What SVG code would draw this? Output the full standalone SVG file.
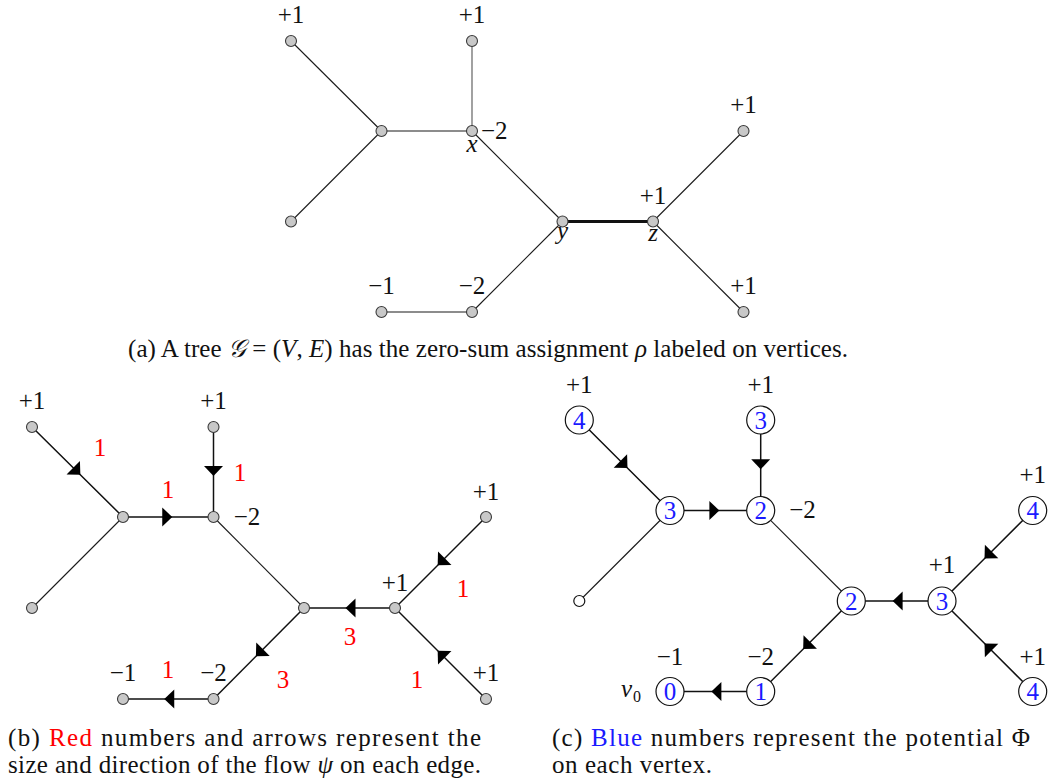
<svg xmlns="http://www.w3.org/2000/svg" width="1050" height="782" viewBox="0 0 1050 782">
<style>
text{font-family:'Liberation Serif','Times New Roman',serif;font-size:25px;fill:#111;stroke:none}
.m{text-anchor:middle}
.it{font-style:italic}
.red{fill:#ff0000}
.blue{fill:#1a1aff}
.sub{font-size:16px}
.e{stroke:#1a1a1a;stroke-width:1.1;fill:none}
.ea{stroke:#111;stroke-width:1.5;fill:none;marker-mid:url(#tri)}
.thick{stroke:#111;stroke-width:3.2}
.g{fill:#c8c8c8;stroke:#3a3a3a;stroke-width:1.1}
.w{fill:#fff;stroke:#111;stroke-width:1.2}
</style>
<defs>
<marker id="tri" viewBox="-7 -10 12 20" refX="0" refY="0" markerWidth="12" markerHeight="20" markerUnits="userSpaceOnUse" orient="auto" overflow="visible">
<path d="M-6,-9.5 L4,0 L-6,9.5 Z" fill="#000"/>
</marker>
</defs>
<rect width="1050" height="782" fill="#fff"/>

<!-- ============ (a) ============ -->
<g id="a-connectors">
<line class="e" x1="291" y1="41" x2="381.5" y2="131"/>
<line class="e" x1="472" y1="41" x2="472" y2="131" style="stroke:#555"/>
<line class="e" x1="381.5" y1="131" x2="472" y2="131"/>
<line class="e" x1="291" y1="221.5" x2="381.5" y2="131"/>
<line class="e" x1="472" y1="131" x2="562.5" y2="221.5"/>
<line class="thick" x1="562.5" y1="221.5" x2="653" y2="221.5"/>
<line class="e" x1="653" y1="221.5" x2="743.5" y2="131"/>
<line class="e" x1="653" y1="221.5" x2="743.5" y2="312"/>
<line class="e" x1="562.5" y1="221.5" x2="472" y2="312"/>
<line class="e" x1="472" y1="312" x2="381.5" y2="312"/>
</g>
<g id="a-n1"><circle class="g" cx="291" cy="41" r="5.5"/><text class="m" x="291" y="23">+1</text></g>
<g id="a-n2"><circle class="g" cx="472" cy="41" r="5.5"/><text class="m" x="472" y="23">+1</text></g>
<g id="a-n3"><circle class="g" cx="381.5" cy="131" r="5.5"/></g>
<g id="a-x"><circle class="g" cx="472" cy="131" r="5.5"/><text x="481" y="139">−2</text><text class="m it" x="472" y="152">x</text></g>
<g id="a-n5"><circle class="g" cx="291" cy="221.5" r="5.5"/></g>
<g id="a-y"><circle class="g" cx="562.5" cy="221.5" r="5.5"/><text class="m it" x="562.5" y="239">y</text></g>
<g id="a-z"><circle class="g" cx="653" cy="221.5" r="5.5"/><text class="m" x="653" y="204">+1</text><text class="m it" x="653" y="241">z</text></g>
<g id="a-n8"><circle class="g" cx="743.5" cy="131" r="5.5"/><text class="m" x="743.5" y="113">+1</text></g>
<g id="a-n9"><circle class="g" cx="743.5" cy="312" r="5.5"/><text class="m" x="743.5" y="294">+1</text></g>
<g id="a-n10"><circle class="g" cx="472" cy="312" r="5.5"/><text class="m" x="472" y="294">−2</text></g>
<g id="a-n11"><circle class="g" cx="381.5" cy="312" r="5.5"/><text class="m" x="381.5" y="294">−1</text></g>
<text id="cap-a" x="128" y="357" textLength="720">(a) A tree <tspan class="it">𝒢</tspan> = (<tspan class="it">V</tspan>, <tspan class="it">E</tspan>) has the zero-sum assignment <tspan class="it">ρ</tspan> labeled on vertices.</text>

<!-- ============ (b) ============ -->
<g id="b-connectors">
<path class="ea" d="M32,427 L77.5,472 L123,517"/>
<path class="ea" d="M213.5,427 L213.5,472 L213.5,517"/>
<path class="ea" d="M123,517 L168.25,517 L213.5,517"/>
<line class="e" x1="32" y1="608" x2="123" y2="517"/>
<line class="e" x1="213.5" y1="517" x2="304" y2="608"/>
<path class="ea" d="M395,608 L349.5,608 L304,608"/>
<path class="ea" d="M486,517 L440.5,562.5 L395,608"/>
<path class="ea" d="M486,699 L440.5,653.5 L395,608"/>
<path class="ea" d="M304,608 L258.75,653.5 L213.5,699"/>
<path class="ea" d="M213.5,699 L168.25,699 L123,699"/>
</g>
<g id="b-n1"><circle class="g" cx="32" cy="427" r="5.5"/><text class="m" x="32" y="409">+1</text></g>
<g id="b-n2"><circle class="g" cx="213.5" cy="427" r="5.5"/><text class="m" x="213.5" y="409">+1</text></g>
<g id="b-n3"><circle class="g" cx="123" cy="517" r="5.5"/></g>
<g id="b-n4"><circle class="g" cx="213.5" cy="517" r="5.5"/><text class="m" x="247" y="525">−2</text></g>
<g id="b-n5"><circle class="g" cx="32" cy="608" r="5.5"/></g>
<g id="b-n6"><circle class="g" cx="304" cy="608" r="5.5"/></g>
<g id="b-n7"><circle class="g" cx="395" cy="608" r="5.5"/><text class="m" x="395" y="591">+1</text></g>
<g id="b-n8"><circle class="g" cx="486" cy="517" r="5.5"/><text class="m" x="486" y="500">+1</text></g>
<g id="b-n9"><circle class="g" cx="486" cy="699" r="5.5"/><text class="m" x="486" y="681">+1</text></g>
<g id="b-n10"><circle class="g" cx="213.5" cy="699" r="5.5"/><text class="m" x="213.5" y="681">−2</text></g>
<g id="b-n11"><circle class="g" cx="123" cy="699" r="5.5"/><text class="m" x="123" y="681">−1</text></g>
<g id="b-flow">
<text class="m red" x="100" y="456">1</text>
<text class="m red" x="240" y="481">1</text>
<text class="m red" x="168" y="498">1</text>
<text class="m red" x="463" y="597">1</text>
<text class="m red" x="350" y="645">3</text>
<text class="m red" x="283" y="688">3</text>
<text class="m red" x="417" y="688">1</text>
<text class="m red" x="168" y="678">1</text>
</g>
<text id="cap-b1" x="8" y="746" textLength="473">(b) <tspan class="red">Red</tspan> numbers and arrows represent the</text>
<text id="cap-b2" x="8" y="773" textLength="473">size and direction of the flow <tspan class="it">ψ</tspan> on each edge.</text>

<!-- ============ (c) ============ -->
<g id="c-connectors">
<path class="ea" d="M579.3,420 L624.65,465.25 L670,510.5"/>
<path class="ea" d="M760.7,420 L760.7,465.25 L760.7,510.5"/>
<path class="ea" d="M670,510.5 L715.35,510.5 L760.7,510.5"/>
<line class="e" x1="579.3" y1="601" x2="670" y2="510.5"/>
<line class="e" x1="760.7" y1="510.5" x2="851.3" y2="601"/>
<path class="ea" d="M942,601 L896.65,601 L851.3,601"/>
<path class="ea" d="M1032.7,510.5 L987.35,555.75 L942,601"/>
<path class="ea" d="M1032.7,691.5 L987.35,646.25 L942,601"/>
<path class="ea" d="M851.3,601 L806,646.25 L760.7,691.5"/>
<path class="ea" d="M760.7,691.5 L715.35,691.5 L670,691.5"/>
</g>
<g id="c-n1"><circle class="w" cx="579.3" cy="420" r="14"/><text class="m blue" x="579.3" y="428.5">4</text><text class="m" x="579.3" y="393">+1</text></g>
<g id="c-n2"><circle class="w" cx="760.7" cy="420" r="14"/><text class="m blue" x="760.7" y="428.5">3</text><text class="m" x="760.7" y="393">+1</text></g>
<g id="c-n3"><circle class="w" cx="670" cy="510.5" r="14"/><text class="m blue" x="670" y="519">3</text></g>
<g id="c-n4"><circle class="w" cx="760.7" cy="510.5" r="14"/><text class="m blue" x="760.7" y="519">2</text><text class="m" x="802.5" y="518">−2</text></g>
<g id="c-n5"><circle class="w" cx="579.3" cy="601" r="5.5"/></g>
<g id="c-n6"><circle class="w" cx="851.3" cy="601" r="14"/><text class="m blue" x="851.3" y="609.5">2</text></g>
<g id="c-n7"><circle class="w" cx="942" cy="601" r="14"/><text class="m blue" x="942" y="609.5">3</text><text class="m" x="942" y="573">+1</text></g>
<g id="c-n8"><circle class="w" cx="1032.7" cy="510.5" r="14"/><text class="m blue" x="1032.7" y="519">4</text><text class="m" x="1032.7" y="483">+1</text></g>
<g id="c-n9"><circle class="w" cx="1032.7" cy="691.5" r="14"/><text class="m blue" x="1032.7" y="700">4</text><text class="m" x="1032.7" y="665">+1</text></g>
<g id="c-n10"><circle class="w" cx="760.7" cy="691.5" r="14"/><text class="m blue" x="760.7" y="700">1</text><text class="m" x="760.7" y="665">−2</text></g>
<g id="c-n11"><circle class="w" cx="670" cy="691.5" r="14"/><text class="m blue" x="670" y="700">0</text><text class="m" x="670" y="665">−1</text><text class="it" x="621" y="697">v</text><text class="sub" x="633" y="702">0</text></g>
<text id="cap-c1" x="552" y="746" textLength="478">(c) <tspan class="blue">Blue</tspan> numbers represent the potential Φ</text>
<text id="cap-c2" x="552" y="773" textLength="160">on each vertex.</text>
</svg>
